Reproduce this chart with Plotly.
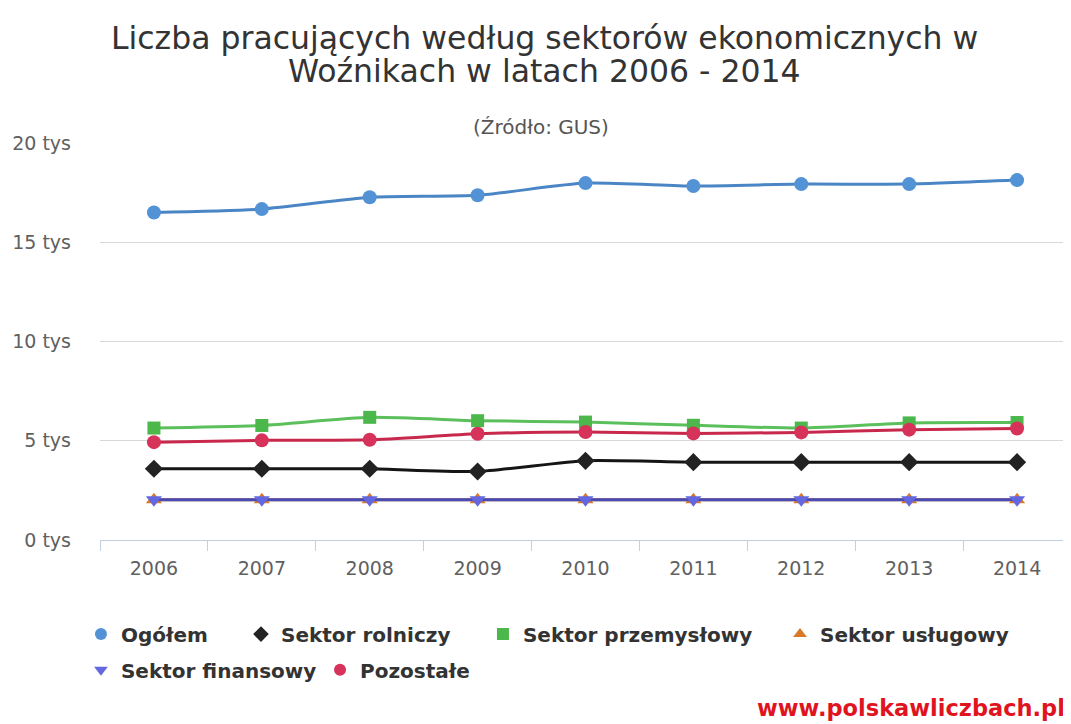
import plotly.graph_objects as go

years = ["2006", "2007", "2008", "2009", "2010", "2011", "2012", "2013", "2014"]
ogolem = [16500, 16670, 17270, 17370, 17980, 17830, 17930, 17930, 18130]
rolniczy = [3590, 3590, 3590, 3450, 3990, 3920, 3920, 3920, 3920]
przemyslowy = [5640, 5770, 6180, 6010, 5940, 5780, 5640, 5900, 5920]
uslugowy = [2030, 2030, 2030, 2030, 2030, 2030, 2030, 2030, 2030]
finansowy = [2030, 2030, 2030, 2030, 2030, 2030, 2030, 2030, 2030]
pozostale = [4930, 5020, 5050, 5350, 5440, 5370, 5420, 5560, 5620]
y_ticks = [0, 5000, 10000, 15000, 20000]
y_tick_text = ["0 tys", "5 tys", "10 tys", "15 tys", "20 tys"]

FONT = "DejaVu Sans"

series = [
    ("Ogółem", ogolem, "#4a86c5", "#5393d5", "circle", 14),
    ("Sektor rolniczy", rolniczy, "#151515", "#222222", "diamond", 14),
    ("Sektor przemysłowy", przemyslowy, "#5bbf5b", "#4cb84c", "square", 13),
    ("Sektor usługowy", uslugowy, "#c0762c", "#d97a2a", "triangle-up", 14),
    ("Sektor finansowy", finansowy, "#4a4ab5", "#6468e0", "triangle-down", 14),
    ("Pozostałe", pozostale, "#c8284c", "#d6325a", "circle", 14),
]
# one legend box per entry: (x, y) in paper coordinates
legend_pos = [(-0.0196, -0.237), (0.1452, -0.237), (0.3944, -0.237), (0.7003, -0.237),
              (-0.0196, -0.327), (0.2266, -0.327)]

fig = go.Figure()
for name, vals, lc, mc, sym, ms in series:
    fig.add_trace(go.Scatter(
        x=years, y=vals, name=name, mode="lines+markers", legendgroup=name,
        showlegend=False,
        line=dict(color=lc, width=3, shape="spline", smoothing=0.6),
        marker=dict(color=mc, symbol=sym, size=ms),
    ))
legend_font = dict(size=20, color="#333333", family=FONT, weight="bold")
legend_layouts = {}
for i, (name, vals, lc, mc, sym, ms) in enumerate(series):
    key = "legend" if i == 0 else f"legend{i + 1}"
    fig.add_trace(go.Scatter(
        x=[years[0]], y=[None], name=name, mode="markers", legendgroup=name,
        showlegend=True, legend=key,
        marker=dict(color=mc, symbol=sym, size=12),
    ))
    lx, ly = legend_pos[i]
    legend_layouts[key] = dict(
        orientation="h", x=lx, xanchor="left", y=ly, yanchor="middle",
        font=legend_font, itemwidth=30, bgcolor="rgba(0,0,0,0)",
    )

fig.update_layout(
    width=1063, height=716,
    paper_bgcolor="white", plot_bgcolor="white",
    margin=dict(l=92, r=0, t=135, b=184),
    font=dict(family=FONT, color="#606060"),
    **legend_layouts,
    xaxis=dict(
        type="category", range=[-0.5, 8.5],
        showgrid=False, showline=True, linecolor="#C0D0E0", linewidth=1,
        ticks="outside", tickson="boundaries", ticklen=10, tickcolor="#C0D0E0",
        ticklabelstandoff=11,
        tickfont=dict(size=19, color="#606060"), fixedrange=True,
    ),
    yaxis=dict(
        range=[0, 20000], tickvals=y_ticks, ticktext=y_tick_text,
        showgrid=True, gridcolor="#D8D8D8", gridwidth=1, zeroline=False,
        showline=False, ticks="", ticklabelstandoff=28,
        tickfont=dict(size=19, color="#606060"),
    ),
    annotations=[
        dict(text="Liczba pracujących według sektorów ekonomicznych w",
             xref="paper", yref="paper", x=0.458, y=1.2645,
             xanchor="center", yanchor="middle", showarrow=False,
             font=dict(size=31.5, color="#333333", family=FONT)),
        dict(text="Woźnikach w latach 2006 - 2014",
             xref="paper", yref="paper", x=0.458, y=1.181,
             xanchor="center", yanchor="middle", showarrow=False,
             font=dict(size=31.5, color="#333333", family=FONT)),
        dict(text="(Źródło: GUS)", xref="paper", yref="paper", x=0.454, y=1.040,
             xanchor="center", yanchor="middle", showarrow=False,
             font=dict(size=20, color="#555555", family=FONT)),
        dict(text="<b>www.polskawliczbach.pl</b>", xref="paper", yref="paper",
             x=0.996, y=-0.423, xanchor="right", yanchor="middle", showarrow=False,
             font=dict(size=22.5, color="#e0141e", family=FONT)),
    ],
)

fig.write_html("out.html")
